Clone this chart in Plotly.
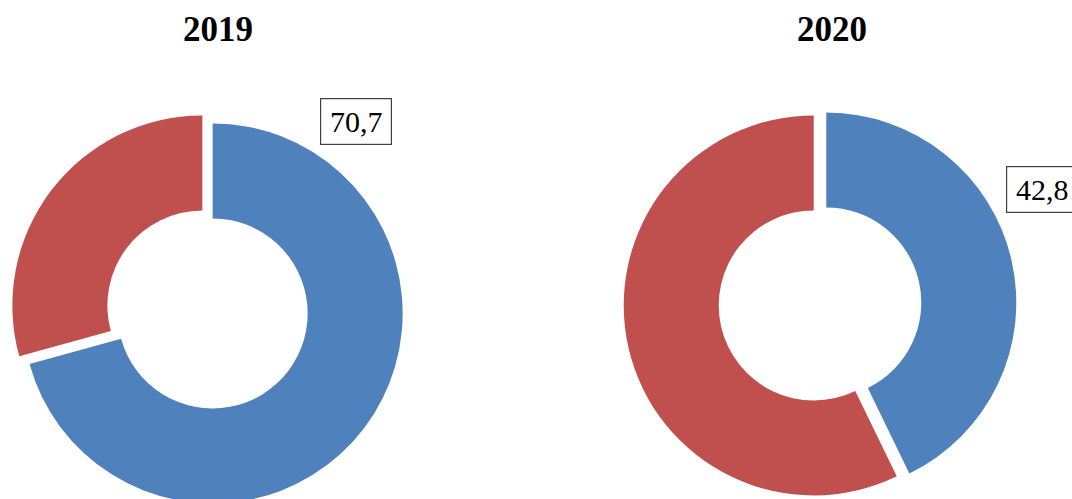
import plotly.graph_objects as go

categories = ["A", "B"]
years = ["2019", "2020"]
values_2019 = [70.7, 29.3]
values_2020 = [42.8, 57.2]
label_2019 = "70,7"
label_2020 = "42,8"

BLUE = "#4F81BD"
RED = "#C0504D"

W, H = 1072, 520  # figure is a bit taller than the window; the bottom is cropped like the reference
pull = 0.034
hole = 0.5
R = 190

def px(x):
    return x / W

def py(y):
    return 1 - y / H

def dom(cx, cy, r):
    side = r * (2 + 2 * pull)
    x0, x1 = cx - side / 2, cx + side / 2
    y0, y1 = cy + side / 2, cy - side / 2
    return dict(x=[x0 / W, x1 / W], y=[min(1, max(0, 1 - y0 / H)), 1 - y1 / H])

fig = go.Figure()
for vals, (cx, cy) in [(values_2019, (207.5, 309.5)), (values_2020, (820, 304))]:
    fig.add_trace(go.Pie(
        labels=categories, values=vals, hole=hole, sort=False,
        direction="clockwise", rotation=0, pull=[pull, pull],
        marker=dict(colors=[BLUE, RED], line=dict(width=0)),
        textinfo="none", hoverinfo="skip", showlegend=False,
        domain=dom(cx, cy, R),
    ))

title_font = dict(family="Liberation Serif, Times New Roman, serif", size=35, color="black")
lab_font = dict(family="Liberation Serif, Times New Roman, serif", size=30, color="black")
for yr, cx in [(years[0], 217.5), (years[1], 832)]:
    fig.add_annotation(x=px(cx), y=py(8), xref="paper", yref="paper", text="<b>" + yr + "</b>",
                       showarrow=False, font=title_font, xanchor="center", yanchor="top")
for lab, (cx, cy) in [(label_2019, (355.5, 121)), (label_2020, (1041.5, 189.5))]:
    fig.add_annotation(x=px(cx), y=py(cy), xref="paper", yref="paper", text=lab,
                       showarrow=False, font=lab_font, bordercolor="#404040", borderwidth=1.2,
                       borderpad=3, width=64, height=39, bgcolor="white",
                       xanchor="center", yanchor="middle")

fig.update_layout(width=W, height=H, margin=dict(l=0, r=0, t=0, b=0),
                  paper_bgcolor="white", plot_bgcolor="white")
fig.write_html("out.html", config={"displayModeBar": False},
               post_script="document.body.style.margin='0';document.body.style.overflow='hidden';")
